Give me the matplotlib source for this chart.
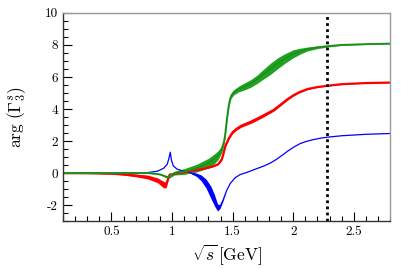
import numpy as np
import matplotlib
matplotlib.use("Agg")
import matplotlib.pyplot as plt
from matplotlib.ticker import MultipleLocator

plt.rcParams['font.family'] = 'cmr10'
plt.rcParams['mathtext.fontset'] = 'cm'
plt.rcParams['axes.unicode_minus'] = False
plt.rcParams['axes.formatter.use_mathtext'] = False

# --- data ---
blue_x = [0.10, 0.50, 0.80, 0.88, 0.93, 0.96, 0.975, 0.985, 0.995, 1.01, 1.04, 1.08, 1.14, 1.20, 1.24, 1.28,
          1.32, 1.35, 1.375, 1.395, 1.42, 1.45, 1.48, 1.52, 1.56, 1.62, 1.70, 1.76, 1.81, 1.86, 1.91, 1.96,
          2.01, 2.06, 2.11, 2.16, 2.22, 2.28, 2.40, 2.60, 2.80]
blue_y = [0.00, 0.01, 0.03, 0.12, 0.30, 0.55, 0.95, 1.30, 0.80, 0.45, 0.25, 0.15, 0.05, -0.10, -0.30, -0.65,
          -1.20, -1.70, -2.15, -2.10, -1.70, -1.10, -0.65, -0.30, -0.10, 0.05, 0.28, 0.45, 0.62, 0.85, 1.12, 1.40,
          1.65, 1.85, 1.98, 2.08, 2.17, 2.24, 2.33, 2.42, 2.47]
blue_w = [0.00, 0.00, 0.00, 0.00, 0.00, 0.00, 0.00, 0.00, 0.00, 0.00, 0.00, 0.00, 0.03, 0.10, 0.18, 0.28,
          0.38, 0.35, 0.22, 0.12, 0.05, 0.00, 0.00, 0.00, 0.00, 0.00, 0.00, 0.00, 0.00, 0.00, 0.00, 0.00,
          0.00, 0.00, 0.00, 0.00, 0.00, 0.00, 0.00, 0.00, 0.00]

red_x = [0.10, 0.30, 0.50, 0.60, 0.70, 0.80, 0.88, 0.93, 0.95, 0.965, 0.98, 1.05, 1.15, 1.25, 1.33, 1.38,
         1.41, 1.42, 1.44, 1.47, 1.50, 1.53, 1.57, 1.65, 1.75, 1.84, 1.90, 1.95, 2.00, 2.05, 2.12, 2.20,
         2.28, 2.40, 2.60, 2.80]
red_y = [0.00, -0.01, -0.04, -0.08, -0.15, -0.25, -0.45, -0.72, -0.75, -0.40, -0.10, 0.00, 0.12, 0.25, 0.40, 0.55,
         0.85, 1.10, 1.70, 2.20, 2.55, 2.75, 2.95, 3.20, 3.58, 3.95, 4.30, 4.60, 4.85, 5.05, 5.25, 5.37,
         5.45, 5.55, 5.62, 5.65]
red_w = [0.00, 0.00, 0.02, 0.05, 0.08, 0.12, 0.15, 0.20, 0.18, 0.12, 0.05, 0.03, 0.03, 0.03, 0.03, 0.04,
         0.06, 0.08, 0.08, 0.08, 0.08, 0.08, 0.09, 0.10, 0.10, 0.08, 0.07, 0.06, 0.05, 0.04, 0.03, 0.02,
         0.02, 0.02, 0.01, 0.01]

green_x = [0.10, 0.80, 0.90, 0.96, 0.98, 1.02, 1.10, 1.20, 1.30, 1.35, 1.38, 1.41, 1.43, 1.44, 1.45, 1.46,
           1.47, 1.48, 1.49, 1.51, 1.55, 1.60, 1.65, 1.70, 1.75, 1.81, 1.87, 1.93, 2.00, 2.06, 2.12, 2.20,
           2.28, 2.40, 2.60, 2.80]
green_y = [0.00, 0.00, -0.08, -0.25, -0.20, 0.00, 0.10, 0.30, 0.62, 0.90, 1.12, 1.50, 2.00, 2.50, 3.20, 3.80,
           4.30, 4.65, 4.85, 5.05, 5.25, 5.42, 5.60, 5.85, 6.15, 6.50, 6.85, 7.15, 7.45, 7.62, 7.75, 7.85,
           7.92, 8.00, 8.05, 8.08]
green_w = [0.00, 0.00, 0.03, 0.08, 0.10, 0.12, 0.18, 0.24, 0.30, 0.30, 0.28, 0.22, 0.18, 0.16, 0.15, 0.15,
           0.15, 0.15, 0.15, 0.16, 0.18, 0.22, 0.24, 0.26, 0.30, 0.35, 0.34, 0.30, 0.25, 0.18, 0.12, 0.08,
           0.05, 0.03, 0.02, 0.02]

x_ticks = [0.5, 1.0, 1.5, 2.0, 2.5]
x_ticklabels = ['0.5', '1', '1.5', '2', '2.5']
y_ticks = [-2, 0, 2, 4, 6, 8, 10]
vline_x = 2.28

fig = plt.figure(figsize=(4.12, 2.69), dpi=100)
ax = fig.add_axes([0.153, 0.178, 0.794, 0.774])

def draw(x, y, w, color, lw):
    x = np.asarray(x); y = np.asarray(y); w = np.asarray(w)
    ax.fill_between(x, y - w, y + w, color=color, lw=0)
    ax.plot(x, y, color=color, lw=lw, solid_capstyle='butt', solid_joinstyle='round')

draw(blue_x, blue_y, blue_w, '#0000ff', 0.9)
draw(red_x, red_y, red_w, '#ff0000', 1.6)
draw(green_x, green_y, green_w, '#22a022', 1.4)
ax.plot(green_x, green_y, color='#117711', lw=0.4)

ax.axvline(vline_x, color='black', lw=2.0, ls=(0, (1, 1.2)))

ax.set_xlim(0.1, 2.8)
ax.set_ylim(-3, 10)
ax.set_xticks(x_ticks)
ax.set_xticklabels(x_ticklabels)
ax.set_yticks(y_ticks)
ax.xaxis.set_minor_locator(MultipleLocator(0.1))
ax.yaxis.set_minor_locator(MultipleLocator(0.5))
ax.tick_params(which='both', direction='in', top=False, right=False, labelsize=9.5, colors='black')
ax.tick_params(which='major', length=6.5, width=0.8)
ax.tick_params(which='minor', length=3.5, width=0.8)
ax.spines['left'].set_color('#333333')
ax.spines['bottom'].set_color('#333333')
ax.spines['top'].set_color('#999999')
ax.spines['right'].set_color('#999999')
for s in ax.spines.values():
    s.set_linewidth(1.0)

ax.set_xlabel(r'$\sqrt{s}\,[\mathrm{GeV}]$', fontsize=12.5, labelpad=3)
ax.set_ylabel(r'$\arg\,(\Gamma_3^s)$', fontsize=12.5, labelpad=12)

fig.savefig('out.png', dpi=100)
